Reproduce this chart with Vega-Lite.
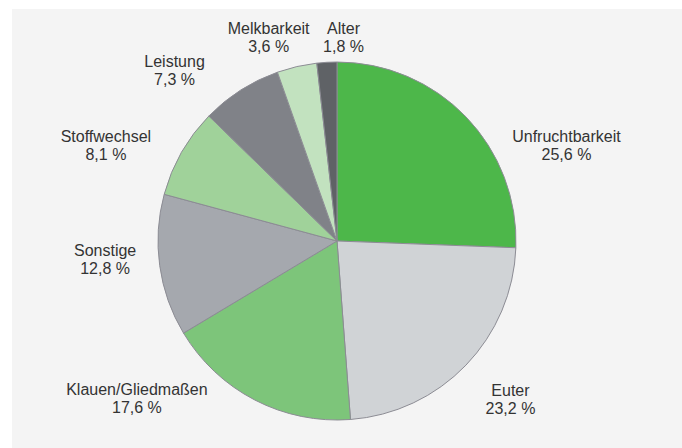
{
  "$schema": "https://vega.github.io/schema/vega-lite/v6.json",
  "width": 670,
  "height": 439,
  "autosize": {"type": "none"},
  "padding": {"left": 12, "top": 9, "right": 0, "bottom": 0},
  "background": "white",
  "view": {"fill": "#f4f4f4", "stroke": null},
  "config": {"view": {"fill": "#f4f4f4", "stroke": null}},
  "data": {
    "values": [
      {"idx": 1, "cat": "Unfruchtbarkeit", "value": 25.6},
      {"idx": 2, "cat": "Euter", "value": 23.2},
      {"idx": 3, "cat": "Klauen/Gliedmaßen", "value": 17.6},
      {"idx": 4, "cat": "Sonstige", "value": 12.8},
      {"idx": 5, "cat": "Stoffwechsel", "value": 8.1},
      {"idx": 6, "cat": "Leistung", "value": 7.3},
      {"idx": 7, "cat": "Melkbarkeit", "value": 3.6},
      {"idx": 8, "cat": "Alter", "value": 1.8}
    ]
  },
  "transform": [
    {"calculate": "datum.cat + '|' + replace(format(datum.value, '.1f'), '.', ',') + ' %'", "as": "label"}
  ],
  "encoding": {
    "theta": {"field": "value", "type": "quantitative", "stack": true},
    "order": {"field": "idx", "type": "quantitative"}
  },
  "layer": [
    {
      "mark": {"type": "arc", "radius": 179, "x": 325, "y": 232, "stroke": "#8c8c94", "strokeWidth": 1},
      "encoding": {
        "color": {
          "field": "cat",
          "type": "nominal",
          "legend": null,
          "scale": {
            "domain": ["Unfruchtbarkeit", "Euter", "Klauen/Gliedmaßen", "Sonstige", "Stoffwechsel", "Leistung", "Melkbarkeit", "Alter"],
            "range": ["#4db74a", "#d0d3d6", "#7dc57a", "#a5a8ae", "#a0d29a", "#808288", "#c2e2bf", "#5f6266"]
          }
        }
      }
    },
    {
      "mark": {
        "type": "text",
        "radius": 220,
        "x": 325,
        "y": 232,
        "lineBreak": "|",
        "lineHeight": 18,
        "font": "Liberation Sans",
        "fontSize": 16,
        "fill": "#333333",
        "align": "center",
        "baseline": "alphabetic",
        "dx": {"expr": "datum.cat === 'Unfruchtbarkeit' ? 71 : datum.cat === 'Euter' ? 15 : datum.cat === 'Klauen/Gliedmaßen' ? -99 : datum.cat === 'Sonstige' ? -14 : datum.cat === 'Stoffwechsel' ? -40 : datum.cat === 'Leistung' ? -44 : datum.cat === 'Melkbarkeit' ? -19 : 19"},
        "dy": {"expr": "datum.cat === 'Unfruchtbarkeit' ? 54 : datum.cat === 'Euter' ? 2 : datum.cat === 'Klauen/Gliedmaßen' ? -41 : datum.cat === 'Sonstige' ? -15 : datum.cat === 'Stoffwechsel' ? 10 : datum.cat === 'Leistung' ? 11 : datum.cat === 'Melkbarkeit' ? 7 : 13"}
      },
      "encoding": {"text": {"field": "label", "type": "nominal"}}
    }
  ]
}
